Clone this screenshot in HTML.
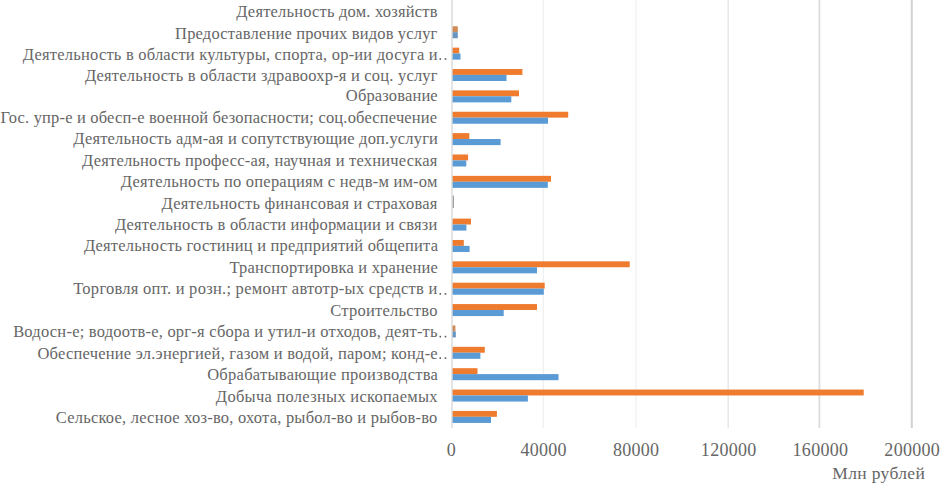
<!DOCTYPE html>
<html><head><meta charset="utf-8"><style>
html,body{margin:0;padding:0;background:#fff;}
body{width:940px;height:484px;position:relative;overflow:hidden;font-family:"Liberation Serif",serif;color:#666666;}
svg{position:absolute;left:0;top:0;}
.l{position:absolute;white-space:nowrap;font-size:17px;line-height:17px;transform-origin:100% 50%;transform:scaleX(0.97);}
.t{position:absolute;width:400px;text-align:center;white-space:nowrap;font-size:18px;line-height:18px;}
.ax{position:absolute;white-space:nowrap;font-size:17.5px;line-height:17.5px;letter-spacing:0.35px;}
</style></head><body>
<svg width="940" height="484" viewBox="0 0 940 484"><rect x="542.70" y="0" width="1.2" height="428" fill="#efefef"/><rect x="635.50" y="0" width="1.2" height="428" fill="#efefef"/><rect x="727.50" y="0" width="1.4" height="428" fill="#e6e6e6"/><rect x="818.50" y="0" width="1.8" height="428" fill="#dcdcdc"/><rect x="910.80" y="0" width="2" height="428" fill="#d2d2d2"/><rect x="452.0" y="26.27" width="5.80" height="5.9" fill="#D08A55"/><rect x="452.0" y="32.17" width="5.80" height="6.1" fill="#6895C0"/><rect x="452.0" y="47.64" width="7.20" height="5.9" fill="#EE7B2E"/><rect x="452.0" y="53.54" width="8.50" height="6.1" fill="#5B9BD5"/><rect x="452.0" y="69.01" width="70.40" height="5.9" fill="#EE7B2E"/><rect x="452.0" y="74.91" width="54.50" height="6.1" fill="#5B9BD5"/><rect x="452.0" y="90.38" width="67.00" height="5.9" fill="#EE7B2E"/><rect x="452.0" y="96.28" width="59.30" height="6.1" fill="#5B9BD5"/><rect x="452.0" y="111.75" width="116.20" height="5.9" fill="#EE7B2E"/><rect x="452.0" y="117.65" width="96.00" height="6.1" fill="#5B9BD5"/><rect x="452.0" y="133.12" width="17.30" height="5.9" fill="#EE7B2E"/><rect x="452.0" y="139.02" width="48.60" height="6.1" fill="#5B9BD5"/><rect x="452.0" y="154.49" width="16.10" height="5.9" fill="#EE7B2E"/><rect x="452.0" y="160.39" width="14.30" height="6.1" fill="#5B9BD5"/><rect x="452.0" y="175.86" width="99.00" height="5.9" fill="#EE7B2E"/><rect x="452.0" y="181.76" width="95.80" height="6.1" fill="#5B9BD5"/><rect x="452.0" y="218.60" width="19.00" height="5.9" fill="#EE7B2E"/><rect x="452.0" y="224.50" width="14.40" height="6.1" fill="#5B9BD5"/><rect x="452.0" y="239.97" width="11.80" height="5.9" fill="#EE7B2E"/><rect x="452.0" y="245.87" width="17.60" height="6.1" fill="#5B9BD5"/><rect x="452.0" y="261.34" width="177.70" height="5.9" fill="#EE7B2E"/><rect x="452.0" y="267.24" width="85.00" height="6.1" fill="#5B9BD5"/><rect x="452.0" y="282.71" width="92.70" height="5.9" fill="#EE7B2E"/><rect x="452.0" y="288.61" width="91.80" height="6.1" fill="#5B9BD5"/><rect x="452.0" y="304.08" width="85.00" height="5.9" fill="#EE7B2E"/><rect x="452.0" y="309.98" width="51.70" height="6.1" fill="#5B9BD5"/><rect x="452.0" y="325.45" width="3.40" height="5.9" fill="#D08A55"/><rect x="452.0" y="331.35" width="3.80" height="6.1" fill="#6895C0"/><rect x="452.0" y="346.82" width="32.80" height="5.9" fill="#EE7B2E"/><rect x="452.0" y="352.72" width="28.40" height="6.1" fill="#5B9BD5"/><rect x="452.0" y="368.19" width="25.50" height="5.9" fill="#EE7B2E"/><rect x="452.0" y="374.09" width="106.50" height="6.1" fill="#5B9BD5"/><rect x="452.0" y="389.56" width="411.70" height="5.9" fill="#EE7B2E"/><rect x="452.0" y="395.46" width="75.90" height="6.1" fill="#5B9BD5"/><rect x="452.0" y="410.93" width="44.90" height="5.9" fill="#EE7B2E"/><rect x="452.0" y="416.83" width="39.00" height="6.1" fill="#5B9BD5"/><rect x="451.30" y="0" width="1.4" height="428" fill="#d9d9d9"/><rect x="452.8" y="195.7" width="1.1" height="12.3" fill="#959595"/><rect x="439.50" y="357.30" width="1.6" height="1.6" fill="#595959"/><rect x="444.70" y="357.30" width="1.6" height="1.6" fill="#595959"/><rect x="439.50" y="58.20" width="1.6" height="1.6" fill="#595959"/><rect x="444.70" y="58.20" width="1.6" height="1.6" fill="#595959"/><rect x="439.50" y="293.10" width="1.6" height="1.6" fill="#595959"/><rect x="444.70" y="293.10" width="1.6" height="1.6" fill="#595959"/><rect x="439.50" y="335.80" width="1.6" height="1.6" fill="#595959"/><rect x="444.70" y="335.80" width="1.6" height="1.6" fill="#595959"/></svg>
<div class="l" style="top:2.76px;right:502.31px;letter-spacing:0.200px">Деятельность дом. хозяйств</div><div class="l" style="top:24.66px;right:502.33px;letter-spacing:0.172px">Предоставление прочих видов услуг</div><div class="l" style="top:45.56px;right:502.28px;letter-spacing:0.222px">Деятельность в области культуры, спорта, ор-ии досуга и</div><div class="l" style="top:66.96px;right:502.30px;letter-spacing:0.207px">Деятельность в области здравоохр-я и соц. услуг</div><div class="l" style="top:86.66px;right:502.35px;letter-spacing:0.150px">Образование</div><div class="l" style="top:108.66px;right:502.32px;letter-spacing:0.181px">Гос. упр-е и обесп-е военной безопасности; соц.обеспечение</div><div class="l" style="top:129.96px;right:502.32px;letter-spacing:0.189px">Деятельность адм-ая и сопутствующие доп.услуги</div><div class="l" style="top:151.66px;right:502.30px;letter-spacing:0.211px">Деятельность професс-ая, научная и техническая</div><div class="l" style="top:173.16px;right:502.28px;letter-spacing:0.230px">Деятельность по операциям с недв-м им-ом</div><div class="l" style="top:194.66px;right:502.29px;letter-spacing:0.221px">Деятельность финансовая и страховая</div><div class="l" style="top:216.16px;right:502.32px;letter-spacing:0.188px">Деятельность в области информации и связи</div><div class="l" style="top:237.16px;right:502.32px;letter-spacing:0.187px">Деятельность гостиниц и предприятий общепита</div><div class="l" style="top:258.66px;right:502.31px;letter-spacing:0.200px">Транспортировка и хранение</div><div class="l" style="top:280.46px;right:502.24px;letter-spacing:0.271px">Торговля опт. и розн.; ремонт автотр-ых средств и</div><div class="l" style="top:301.66px;right:502.26px;letter-spacing:0.250px">Строительство</div><div class="l" style="top:323.16px;right:502.28px;letter-spacing:0.228px">Водосн-е; водоотв-е, орг-я сбора и утил-и отходов, деят-ть</div><div class="l" style="top:344.66px;right:502.27px;letter-spacing:0.241px">Обеспечение эл.энергией, газом и водой, паром; конд-е</div><div class="l" style="top:366.16px;right:502.22px;letter-spacing:0.289px">Обрабатывающие производства</div><div class="l" style="top:387.66px;right:502.23px;letter-spacing:0.280px">Добыча полезных ископаемых</div><div class="l" style="top:408.76px;right:502.29px;letter-spacing:0.220px">Сельское, лесное хоз-во, охота, рыбол-во и рыбов-во</div>
<div class="t" style="left:251.30px;top:441.43px;letter-spacing:0.3px;text-indent:0.3px">0</div><div class="t" style="left:343.50px;top:441.43px;letter-spacing:0.3px;text-indent:0.3px">40000</div><div class="t" style="left:436.00px;top:441.43px;letter-spacing:0.3px;text-indent:0.3px">80000</div><div class="t" style="left:528.60px;top:441.43px;letter-spacing:0.3px;text-indent:0.3px">120000</div><div class="t" style="left:620.30px;top:441.43px;letter-spacing:0.3px;text-indent:0.3px">160000</div><div class="t" style="left:712.10px;top:441.43px;letter-spacing:0.3px;text-indent:0.3px">200000</div>
<div class="ax" style="left:832.3px;top:465.24px">Млн рублей</div>
</body></html>
